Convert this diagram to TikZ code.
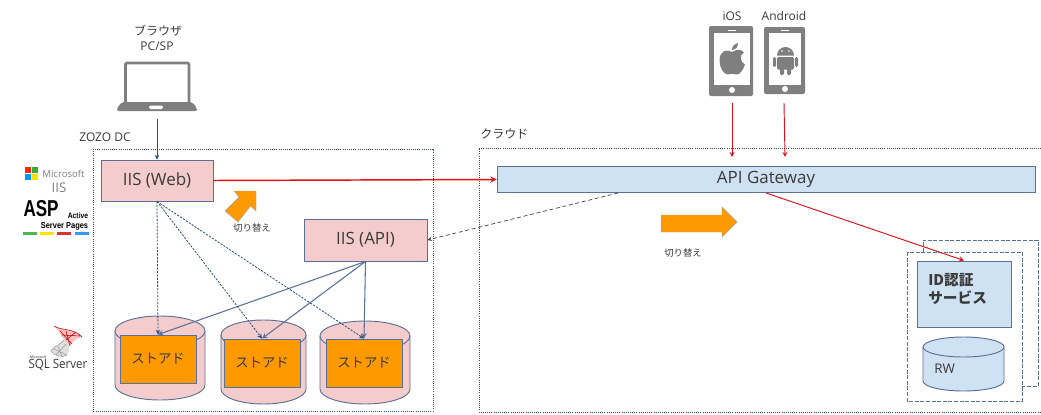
\documentclass[tikz,border=0pt]{standalone}
\usepackage{fontspec}
\setmainfont{Open Sans}
\newfontfamily\jpfont{Noto Sans CJK JP}
\newfontfamily\condfont{Liberation Sans}
\def\px{.75pt}
\definecolor{pinkbox}{HTML}{F4CCCC}
\definecolor{bluebox}{HTML}{CFE2F3}
\definecolor{orangebox}{HTML}{FF9900}
\definecolor{edgeblue}{HTML}{5A7099}
\definecolor{darkblue}{HTML}{2A4B7C}
\definecolor{iconsgray}{HTML}{7F7F7F}
\definecolor{textgray}{HTML}{3A3A3A}
\definecolor{redline}{HTML}{E0101A}
\tikzset{
    server/.style={draw=edgeblue, fill=pinkbox, line width=.7pt, inner sep=0pt, text=textgray, font=\fontsize{12.7}{14}\selectfont},
    store/.style={draw=edgeblue, fill=orangebox, line width=.7pt, inner sep=0pt, text=textgray, minimum width=76*\px, minimum height=48*\px, font=\jpfont\fontsize{10}{12}\selectfont},
    disk/.style={draw=edgeblue, line width=.7pt},
    zone/.style={draw=darkblue, line width=.6pt, densely dotted},
    backup/.style={draw=edgeblue, line width=.7pt, dash pattern=on 3pt off 1.2pt},
    label/.style={text=textgray, inner sep=0pt, font=\fontsize{9}{10}\selectfont},
    jplabel/.style={text=textgray, inner sep=0pt, font=\jpfont\fontsize{9}{10}\selectfont},
    smalljp/.style={text=textgray, inner sep=0pt, font=\jpfont\fontsize{7}{8}\selectfont},
    redarrow/.style={->, >=stealth, draw=redline, line width=.7pt},
    webarrow/.style={->, >=stealth, draw=darkblue, line width=.6pt, dash pattern=on 1.6pt off 1pt},
    apiarrow/.style={->, >=stealth, draw=edgeblue, line width=.8pt},
}
%% fill, left, top, width, height, end radius
\newcommand{\drawdisk}[6]{
    \draw[disk, fill=#1] (#2,{#3+#6}) -- (#2,{#3+#5-#6}) arc[start angle=180, end angle=0, x radius={#4/2}, y radius=#6] -- ({#2+#4},{#3+#6}) arc[start angle=0, end angle=-180, x radius={#4/2}, y radius=#6] -- cycle;
    \draw[disk] (#2,{#3+#6}) arc[start angle=180, end angle=0, x radius={#4/2}, y radius=#6];
}
\begin{document}
\begin{tikzpicture}[x=\px, y=-\px]
    \useasboundingbox (0,0) rectangle (1041,414);
    %% zones
    \draw[zone] (93,149) rectangle (433,411);
    \draw[zone] (1041,148) -- (479,148) -- (479,412) -- (1041,412);
    \node[label, anchor=west] (dclabel) at (79,137) {ZOZO DC};
    \node[jplabel, anchor=west] (cloudlabel) at (480,134) {クラウド};
    %% browser
    \node[jplabel] (browserlabel) at (158,31) {ブラウザ};
    \node[label] (pclabel) at (157,46) {PC/SP};
    \draw[iconsgray, line width=2pt, fill=white, rounded corners=1pt] (125.5,63) rectangle (189,104);
    \fill[iconsgray, rounded corners=1.5pt] (122,102) -- (192,102) -- (197,108) -- (197,111) -- (117,111) -- (117,108) -- cycle;
    \fill[white, rounded corners=1pt] (149,105.5) rectangle (163,109);
    \coordinate (laptop) at (157,119);
    %% phones
    \node[label] (ioslabel) at (732,16) {iOS};
    \node[label] (androidlabel) at (784,16) {Android};
    \fill[iconsgray, rounded corners=1.5pt] (709,26) rectangle (753,96);
    \fill[white] (714,33) rectangle (750,85);
    \fill[white] (728,29.5) rectangle (736,31);
    \fill[white] (732,90) circle (3);
    \fill[iconsgray, rounded corners=1.5pt] (764,27) rectangle (805,94);
    \fill[white] (768.5,33) rectangle (801,85);
    \fill[white] (781,29.5) rectangle (789,31);
    \fill[white] (785,89) circle (3);
    %% apple
    \fill[iconsgray] (732,52) .. controls (727,49) and (720,50) .. (719.5,60) .. controls (719,67) and (724,75) .. (728,74.5) .. controls (730,73.5) and (734,73.5) .. (736,74.5) .. controls (740,75) and (743,70) .. (745,64.5) .. controls (740,62) and (739,55) .. (744,52.5) .. controls (741,48.5) and (736,49.5) .. (732,52) -- cycle;
    \fill[iconsgray] (732,50) .. controls (732,46.5) and (734,44) .. (738,43) .. controls (738,47) and (736,49.5) .. (732,50) -- cycle;
    %% android
    \fill[iconsgray] (777,55.5) arc[start angle=180, end angle=360, x radius=8.5, y radius=8.5];
    \fill[iconsgray, rounded corners=1pt] (777,57) rectangle (794,69.5);
    \fill[iconsgray, rounded corners=1pt] (780,68) rectangle (784,75);
    \fill[iconsgray, rounded corners=1pt] (787,68) rectangle (791,75);
    \fill[iconsgray, rounded corners=1pt] (773,57) rectangle (776,67);
    \fill[iconsgray, rounded corners=1pt] (795,57) rectangle (798,67);
    \fill[white] (782,51) circle (.8) (789,51) circle (.8);
    %% left hand logos
    \fill[red!70!orange] (25,167) rectangle (31,173);
    \fill[green!60!black!80] (31.5,167) rectangle (37.5,173);
    \fill[blue!40!cyan] (25,173.5) rectangle (31,180);
    \fill[yellow!80!orange] (31.5,173.5) rectangle (37.5,180);
    \node[text=iconsgray, inner sep=0pt, font=\fontsize{7.2}{8}\selectfont] (mslogo) at (63.5,174) {Microsoft};
    \node[text=iconsgray, inner sep=0pt, font=\fontsize{10}{11}\selectfont] (iislogo) at (59,188) {IIS};
    \node[inner sep=0pt, font=\condfont\bfseries\fontsize{15}{16}\selectfont] (asplogo) at (41,208.5) {\scalebox{.85}[1.15]{ASP}};
    \node[inner sep=0pt, font=\condfont\bfseries\fontsize{6}{6.5}\selectfont] (activelogo) at (78,215.5) {\scalebox{.85}[1]{Active}};
    \node[inner sep=0pt, font=\condfont\bfseries\fontsize{6.5}{7}\selectfont] (serverlogo) at (64.5,226.5) {\scalebox{.86}[1]{Server Pages}};
    \fill[green!60!black!70] (23,232) rectangle (37,235);
    \fill[yellow!85!orange] (40,232) rectangle (54,235);
    \fill[red!80!black!80] (57,232) rectangle (71,235);
    \fill[blue!50!cyan!80] (75,232) rectangle (89,235);
    %% sql server logo
    \fill[red!25] (54,326) .. controls (62,331) and (74,328) .. (82,337) .. controls (76,338) and (72,342) .. (70,346) .. controls (64,342) and (62,334) .. (54,326) -- cycle;
    \draw[red!70!black, line width=.4pt] (54,326) .. controls (62,331) and (74,328) .. (82,337) (60,331) -- (72,344) (66,331) -- (70,346) (62,335) -- (80,336) (66,340) -- (76,332);
    \fill[gray!25] (64,340) .. controls (60,345) and (54,346) .. (51,351) .. controls (54,356) and (62,358) .. (67,355) .. controls (69,351) and (70,348) .. (69,345) -- cycle;
    \draw[gray!80, line width=.4pt] (64,340) .. controls (60,345) and (54,346) .. (51,351) .. controls (54,356) and (62,358) .. (67,355) (58,346) -- (62,357) (54,349) -- (67,355) (66,344) -- (56,355);
    \node[text=textgray, inner sep=0pt, font=\fontsize{2.8}{3}\selectfont] (mssqllogo) at (38,357) {Microsoft};
    \node[text=textgray, inner sep=0pt, font=\fontsize{9.6}{10}\selectfont] (sqllogo) at (58,365) {\scalebox{.9}[1]{SQL Server}};
    %% servers
    \node[server, minimum width=112*\px, minimum height=41*\px] (iisweb) at (157,180.5) {IIS (Web)};
    \node[server, minimum width=123*\px, minimum height=42*\px] (iisapi) at (365.5,240) {IIS (API)};
    \node[draw=edgeblue, fill=bluebox, line width=.7pt, inner sep=0pt, text=textgray, minimum width=538*\px, minimum height=26*\px, font=\fontsize{12.7}{14}\selectfont] (gateway) at (766,179.5) {API Gateway};
    %% stores
    \drawdisk{pinkbox}{115}{316}{90}{84}{15}
    \drawdisk{pinkbox}{221}{320}{85}{84}{15}
    \drawdisk{pinkbox}{320}{321}{90}{83}{15}
    \node[store] (store1) at (158,359) {ストアド};
    \node[store] (store2) at (262,363) {ストアド};
    \node[store] (store3) at (364,363) {ストアド};
    %% id service
    \draw[backup] (923,252) -- (923,240) -- (1038,240) -- (1038,386) -- (1022,386);
    \draw[backup, fill=white] (907,252) rectangle (1022,401);
    \node[draw=edgeblue, fill=bluebox, line width=.7pt, inner sep=0pt, text=textgray, minimum width=94*\px, minimum height=66*\px] (idbox) at (964,294) {};
    \node[anchor=north west, align=left, inner sep=0pt, text=textgray, font=\jpfont\bfseries\fontsize{11}{13.5}\selectfont] (idlabel) at (928,273) {ID認証\\サービス};
    \drawdisk{bluebox}{923}{337}{81}{54}{10}
    \node[label, font=\fontsize{10}{11}\selectfont, anchor=west] (rwlabel) at (934,369) {RW};
    %% switch arrows
    \fill[orangebox, draw=iconsgray!70, line width=.3pt] (234,191) -- (256,191) -- (256,211) -- (250.5,206) -- (238,222) -- (225,211) -- (239,197) -- cycle;
    \fill[orangebox, draw=iconsgray!70, line width=.3pt] (661,215) -- (722,215) -- (722,207) -- (737,222) -- (722,237) -- (722,232) -- (661,232) -- cycle;
    \node[smalljp] (switchleft) at (252,228) {切り替え};
    \node[smalljp] (switchright) at (683,253) {切り替え};
    %% connectors
    \coordinate (iosend) at (732,103);
    \coordinate (iostip) at (732,157);
    \coordinate (androidend) at (784,103);
    \coordinate (androidtip) at (785,157);
    \coordinate (gwout) at (618,193);
    \draw[->, >=stealth, draw=darkblue, line width=.6pt] (laptop) -- (iisweb.north);
    \draw[redarrow, line width=1.1pt] (iisweb.east) -- (gateway.west);
    \draw[redarrow] (iosend) -- (iostip);
    \draw[redarrow] (androidend) -- (androidtip);
    \draw[redarrow] (gateway.south) -- (idbox.north);
    \draw[->, >=stealth, draw=textgray, line width=.5pt, densely dashed] (gwout) -- (iisapi.east);
    \foreach \s in {1,2,3} {
        \draw[webarrow] (iisweb.south) -- (store\s.north);
        \draw[apiarrow] (iisapi.south) -- (store\s.north);
    }
\end{tikzpicture}
\end{document}
